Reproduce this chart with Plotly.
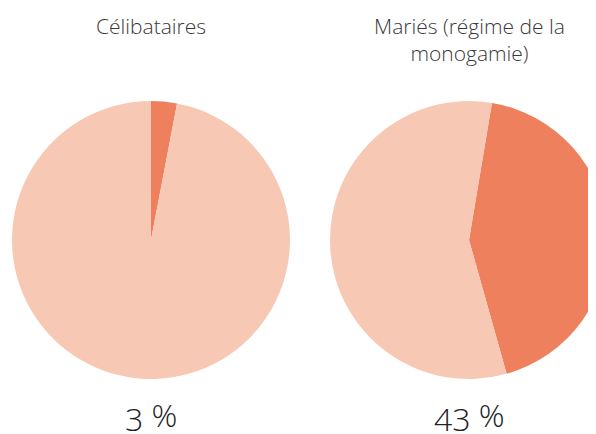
import plotly.graph_objects as go

# données
categories = ["Célibataires", "Mariés (régime de la<br>monogamie)"]
part = [3, 43]
reste = [97, 57]
rotations = [0, 9.5]
labels = ["Oui", "Non"]

COL_DARK = "#EE805E"
COL_LIGHT = "#F7C9B5"
TXT = "#3a3a3a"

W, H = 604, 434
OFF = 8  # page body margin

# position of each pie in screen pixels (centre x, centre y, radius)
pies = [(151, 240, 139), (469, 240, 139)]

fig = go.Figure()
for i, (cx, cy, r) in enumerate(pies):
    cx, cy = cx - OFF, cy - OFF
    fig.add_trace(
        go.Pie(
            labels=labels,
            values=[part[i], reste[i]],
            sort=False,
            direction="clockwise",
            rotation=rotations[i],
            marker=dict(colors=[COL_DARK, COL_LIGHT], line=dict(width=0)),
            textinfo="none",
            hoverinfo="label+percent",
            showlegend=False,
            domain=dict(
                x=[(cx - r) / W, (cx + r) / W],
                y=[(H - cy - r) / H, (H - cy + r) / H],
            ),
        )
    )
    fig.add_annotation(
        x=cx / W, y=1 - 2 / H, xref="paper", yref="paper",
        text=categories[i], showarrow=False, xanchor="center", yanchor="top",
        font=dict(size=21, color=TXT, family="Open Sans", weight=300),
    )
    fig.add_annotation(
        x=cx / W, y=0, xref="paper", yref="paper", yshift=0,
        text=f"{part[i]} <span style='baseline-shift:4px'>%</span>",
        showarrow=False, xanchor="center", yanchor="bottom",
        font=dict(size=32, color="#222222", family="Open Sans", weight=300),
    )

fig.update_layout(
    width=W,
    height=H,
    margin=dict(l=0, r=0, t=0, b=0),
    paper_bgcolor="white",
    plot_bgcolor="white",
    font_family="Open Sans",
)

fig.write_html("out.html")
